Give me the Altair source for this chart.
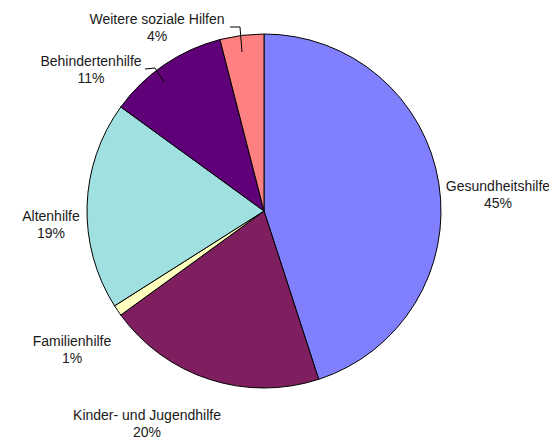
import altair as alt
import pandas as pd

# --- data ---
categories = [
    "Gesundheitshilfe",
    "Kinder- und Jugendhilfe",
    "Familienhilfe",
    "Altenhilfe",
    "Behindertenhilfe",
    "Weitere soziale Hilfen",
]
shares = [45, 20, 1, 19, 11, 4]

# --- styling / layout (kept apart from the data) ---
colors = ["#8080FF", "#7F1F5F", "#FFFFC0", "#A0E0E0", "#5F0078", "#FF8080"]
center_x, center_y, radius = 256, 203, 177
label_x = [490, 139, 64, 43, 83, 149]
label_y = [179, 408, 334, 209, 54, 12]
# leader line segments (x, y, x2, y2)
leader_x1 = [222, 232, 137, 147]
leader_y1 = [19, 19, 61, 60]
leader_x2 = [232, 234, 147, 156]
leader_y2 = [19, 44, 60, 74]

df = pd.DataFrame({
    "cat": categories,
    "share": shares,
    "order": list(range(len(categories))),
    "label": [f"{c}\n{s}%" for c, s in zip(categories, shares)],
    "lx": label_x,
    "ly": label_y,
})
lines = pd.DataFrame({"x": leader_x1, "y": leader_y1, "x2": leader_x2, "y2": leader_y2})

pie = alt.Chart(df).mark_arc(
    x=center_x, y=center_y, outerRadius=radius, stroke="black", strokeWidth=1
).encode(
    theta=alt.Theta("share:Q", stack=True),
    color=alt.Color("cat:N", scale=alt.Scale(domain=categories, range=colors), legend=None),
    order=alt.Order("order:Q"),
)

leaders = alt.Chart(lines).mark_rule(color="black", strokeWidth=1).encode(
    x=alt.X("x:Q", scale=None),
    y=alt.Y("y:Q", scale=None),
    x2="x2:Q",
    y2="y2:Q",
)

labels = alt.Chart(df).mark_text(
    font="Liberation Sans", fontSize=14, lineBreak="\n", lineHeight=17,
    align="center", baseline="middle", color="#1a1a1a",
).encode(
    x=alt.X("lx:Q", scale=None),
    y=alt.Y("ly:Q", scale=None),
    text="label:N",
)

chart = alt.layer(pie, leaders, labels).properties(
    width=541, height=432, padding=0, autosize="none"
).configure_view(stroke=None)

chart.save("out.html", embed_options={"renderer": "svg", "actions": False})
